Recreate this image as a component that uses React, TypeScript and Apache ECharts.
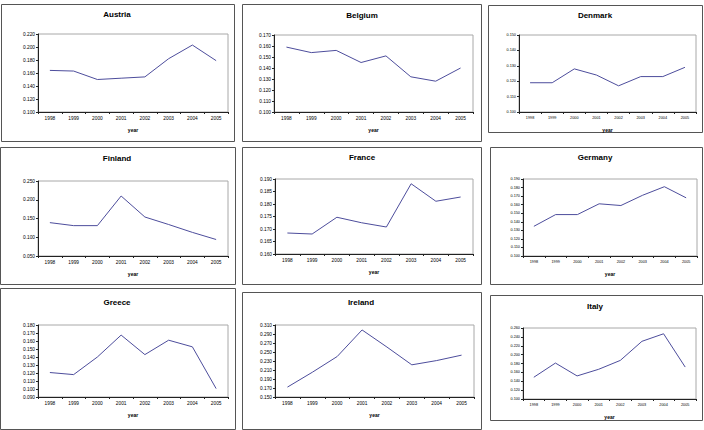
import React, { useEffect, useRef } from "react";
import * as echarts from "echarts";

// Years on every category axis
const years = ["1998", "1999", "2000", "2001", "2002", "2003", "2004", "2005"];

// Series values per country
const austria = [0.164, 0.163, 0.150, 0.152, 0.154, 0.182, 0.203, 0.179];
const belgium = [0.159, 0.154, 0.156, 0.145, 0.151, 0.132, 0.128, 0.140];
const denmark = [0.119, 0.119, 0.128, 0.124, 0.117, 0.123, 0.123, 0.129];
const finland = [0.139, 0.131, 0.131, 0.210, 0.154, 0.134, 0.113, 0.094];
const france = [0.1684, 0.168, 0.1747, 0.1725, 0.1708, 0.1881, 0.1811, 0.1828];
const germany = [0.1347, 0.1484, 0.1484, 0.161, 0.159, 0.171, 0.181, 0.168];
const greece = [0.1206, 0.118, 0.140, 0.1674, 0.143, 0.161, 0.1527, 0.1005];
const ireland = [0.172, 0.205, 0.240, 0.299, 0.261, 0.2215, 0.231, 0.243];
const italy = [0.149, 0.181, 0.152, 0.167, 0.187, 0.230, 0.247, 0.172];

// Country names (panel titles)
const countries = ["Austria", "Belgium", "Denmark", "Finland", "France", "Germany", "Greece", "Ireland", "Italy"];
const seriesValues = [austria, belgium, denmark, finland, france, germany, greece, ireland, italy];

// Value-axis ranges: [min, max, step]
const yRanges: [number, number, number][] = [
  [0.1, 0.22, 0.02],
  [0.1, 0.17, 0.01],
  [0.1, 0.15, 0.01],
  [0.05, 0.25, 0.05],
  [0.16, 0.19, 0.005],
  [0.1, 0.19, 0.01],
  [0.09, 0.18, 0.01],
  [0.15, 0.31, 0.02],
  [0.1, 0.26, 0.02],
];

// Panel layout: frame box, plot grid, title position, label font size
type Panel = {
  box: [number, number, number, number];
  grid: [number, number, number, number];
  title: [number, number];
  fs: number;
};
const panels: Panel[] = [
  { box: [1, 4, 233, 137], grid: [38, 34, 190, 78], title: [117, 14], fs: 4.8 },
  { box: [242, 4, 239, 137], grid: [274, 35, 199, 77], title: [362, 15], fs: 4.8 },
  { box: [488, 5, 214, 127], grid: [519, 35, 177, 77], title: [595, 15], fs: 3.8 },
  { box: [0, 147, 235, 137], grid: [38, 181, 190, 75], title: [117, 158], fs: 4.8 },
  { box: [242, 147, 239, 137], grid: [275, 179, 198, 75], title: [362, 157], fs: 4.8 },
  { box: [490, 147, 212, 137], grid: [523, 179, 174, 77], title: [595, 157], fs: 3.8 },
  { box: [0, 288, 235, 141], grid: [38, 325, 190, 72], title: [117, 302], fs: 4.8 },
  { box: [242, 292, 239, 137], grid: [275, 325, 199, 72], title: [361, 302], fs: 4.8 },
  { box: [490, 295, 212, 125], grid: [523, 328, 173, 71], title: [595, 306], fs: 3.8 },
];

const FONT = "'Liberation Sans', Arial, sans-serif";
const LINE = "#4d4d9c";
const AXIS = "#222";

export default function App() {
  const ref = useRef<HTMLDivElement>(null);

  useEffect(() => {
    if (!ref.current) return;
    const chart = echarts.init(ref.current, undefined, { renderer: "svg" });

    const grids: any[] = [];
    const xAxes: any[] = [];
    const yAxes: any[] = [];
    const series: any[] = [];
    const graphics: any[] = [];

    panels.forEach((p, i) => {
      const [bx, by, bw, bh] = p.box;
      graphics.push({
        type: "rect",
        shape: { x: bx + 0.5, y: by + 0.5, width: bw, height: bh },
        style: { fill: "#fff", stroke: "#555", lineWidth: 1 },
        z: -10,
      });
      graphics.push({
        type: "text",
        x: p.title[0],
        y: p.title[1],
        style: {
          text: countries[i],
          font: `bold 8px ${FONT}`,
          fill: "#000",
          textAlign: "center",
          textVerticalAlign: "middle",
        },
      });

      const [gl, gt, gw, gh] = p.grid;
      grids.push({
        left: gl,
        top: gt,
        width: gw,
        height: gh,
        show: true,
        borderColor: "#a8a8a8",
        borderWidth: 1,
        backgroundColor: "#fff",
      });

      xAxes.push({
        type: "category",
        gridIndex: i,
        data: years,
        boundaryGap: true,
        axisLine: { lineStyle: { color: AXIS, width: 1 } },
        axisTick: { show: true, length: 2, interval: 0, lineStyle: { color: AXIS } },
        axisLabel: { fontSize: p.fs, fontFamily: FONT, color: "#000", margin: 4, interval: 0 },
        splitLine: { show: false },
        name: "year",
        nameLocation: "middle",
        nameGap: 15,
        nameTextStyle: { fontSize: 5, fontWeight: "bold", fontFamily: FONT, color: "#000" },
      });

      const [mn, mx, st] = yRanges[i];
      yAxes.push({
        type: "value",
        gridIndex: i,
        min: mn,
        max: mx,
        interval: st,
        axisLine: { show: true, lineStyle: { color: AXIS, width: 1 } },
        axisTick: { show: true, length: 2, lineStyle: { color: AXIS } },
        axisLabel: {
          fontSize: p.fs,
          fontFamily: FONT,
          color: "#000",
          margin: 3,
          formatter: (v: number) => v.toFixed(3),
        },
        splitLine: { show: false },
      });

      series.push({
        type: "line",
        xAxisIndex: i,
        yAxisIndex: i,
        data: seriesValues[i],
        symbol: "none",
        lineStyle: { color: LINE, width: 1 },
      });
    });

    chart.setOption({
      animation: false,
      backgroundColor: "#fff",
      grid: grids,
      xAxis: xAxes,
      yAxis: yAxes,
      series,
      graphic: graphics,
    });

    return () => chart.dispose();
  }, []);

  return (
    <div
      ref={ref}
      style={{ position: "absolute", left: 0, top: 0, width: 704, height: 430, background: "#fff" }}
    />
  );
}
